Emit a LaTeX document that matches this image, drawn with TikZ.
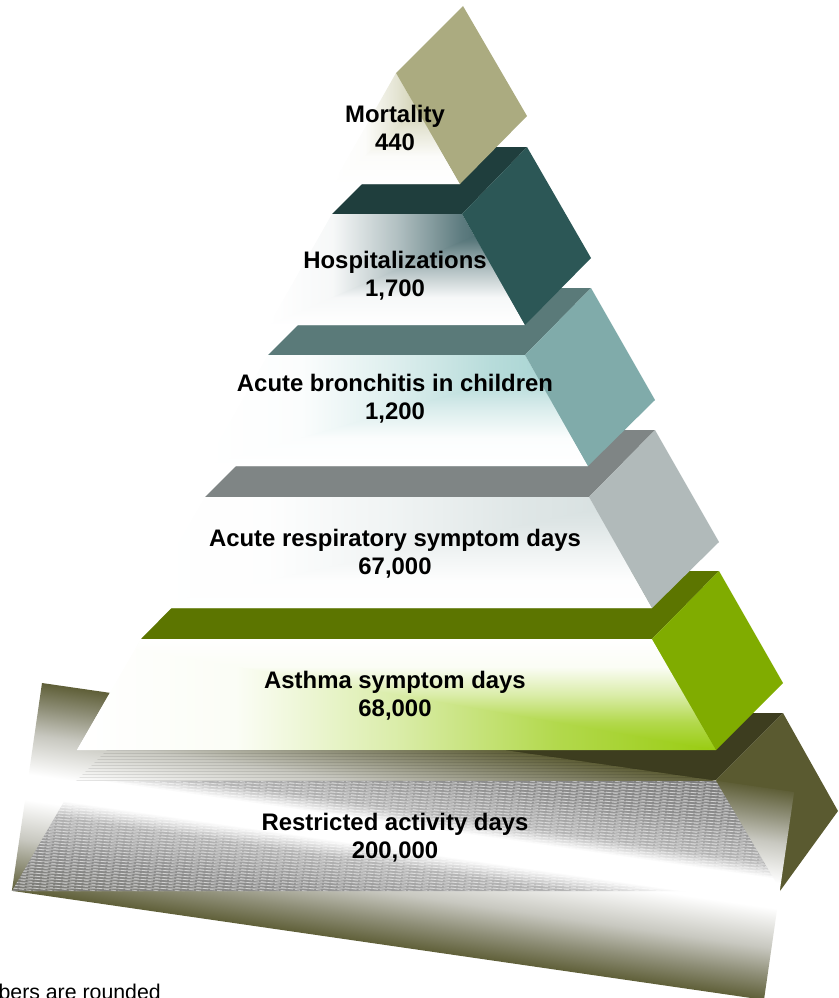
\documentclass[tikz,border=0pt]{standalone}
\usepackage{fontspec}
\setmainfont{Liberation Sans}
\definecolor{morS}{HTML}{ABAB80}
\definecolor{morC}{HTML}{B5B585}
\definecolor{hosT}{HTML}{1F3E3D}
\definecolor{hosS}{HTML}{2C5756}
\definecolor{hosC}{HTML}{285055}
\definecolor{broT}{HTML}{5A7A79}
\definecolor{broS}{HTML}{80ABAA}
\definecolor{broC}{HTML}{9FD0CE}
\definecolor{resT}{HTML}{7F8585}
\definecolor{resS}{HTML}{B1BABA}
\definecolor{resC}{HTML}{D4DEDE}
\definecolor{astT}{HTML}{5C7500}
\definecolor{astS}{HTML}{80AC00}
\definecolor{astC}{HTML}{99CC11}
\definecolor{actT}{HTML}{3D3D1F}
\definecolor{actS}{HTML}{5A5A30}
\definecolor{olv}{HTML}{5F5F38}
\definecolor{olvA}{HTML}{8F8F78}
\definecolor{olvB}{HTML}{C8C8C0}
\definecolor{drk}{HTML}{787872}
\definecolor{drkA}{HTML}{7A7A7A}
\definecolor{drkB}{HTML}{8E8E8E}
\definecolor{drkC}{HTML}{B4B4B4}
\newcommand{\declramps}[2]{%
 \pgfdeclarehorizontalshading{h#1}{100bp}{color(0bp)=(white); color(25bp)=(white); color(37.5bp)=(#2!4!white); color(50bp)=(#2!36!white); color(62.5bp)=(#2!75!white); color(75bp)=(#2); color(100bp)=(#2)}%
 \pgfdeclareverticalshading{t#1}{100bp}{color(0bp)=(white); color(25bp)=(white); color(37.5bp)=(#2!4!white); color(50bp)=(#2!36!white); color(62.5bp)=(#2!75!white); color(75bp)=(#2); color(100bp)=(#2)}%
 \pgfdeclareverticalshading{b#1}{100bp}{color(0bp)=(#2); color(25bp)=(#2); color(37.5bp)=(#2!75!white); color(50bp)=(#2!36!white); color(62.5bp)=(#2!4!white); color(75bp)=(white); color(100bp)=(white)}%
}
\declramps{mor}{morC}
\declramps{hos}{hosC}
\declramps{bro}{broC}
\declramps{res}{resC}
\declramps{ast}{astC}
% #1 polygon, #2 ramp, #3 v-prefix, #4 x0, #5 x1, #6 corner y, #7 opposite y
\newcommand{\frontface}[7]{%
 \begin{scope}
  \clip #1;
  \fill[white] (#4,#6) rectangle (#5,#7);
  \shade[shading=h#2] (#4,#6) rectangle (#5,#7);
  \begin{scope}
   \clip (#5,#6) -- (#5,#7) -- (#4,#7) -- cycle;
   \shade[shading=#3#2] (#4,#6) rectangle (#5,#7);
  \end{scope}
 \end{scope}}
\pgfdeclareverticalshading{rectbase}{100bp}{color(0bp)=(olv); color(25bp)=(olv); color(31bp)=(olvA); color(37.5bp)=(olvB); color(47bp)=(white); color(53bp)=(white); color(62.5bp)=(olvB); color(69bp)=(olvA); color(75bp)=(olv); color(100bp)=(olv)}
\pgfdeclareverticalshading{rectdark}{100bp}{color(0bp)=(drk); color(25bp)=(drk); color(35bp)=(drkB); color(44bp)=(drkC); color(48bp)=(white); color(54bp)=(white); color(57.5bp)=(drkC); color(66bp)=(drkB); color(75bp)=(drkA); color(100bp)=(drkA)}
\tikzset{
 rectcanvas/.style={transform canvas={rotate around={-8.25:(42,683)}}},
 label/.style={font=\bfseries\fontsize{23.9}{28}\selectfont,align=center,text=black,inner sep=0pt},
 note/.style={font=\fontsize{21.3}{26}\selectfont,text=black,inner sep=0pt}
}
\begin{document}
\begin{tikzpicture}[x=1pt,y=-1pt]
\useasboundingbox (0,0) rectangle (838,998);
% restricted layer
\fill[actT] (77,780) -- (144,713) -- (783,713) -- (716,780) -- cycle;
\fill[actS] (716,780) -- (783,713) -- (838,811) -- (780,891) -- cycle;
\begin{scope}[rectcanvas]
 \shade[shading=rectbase] (42,683) rectangle (802,893);
\end{scope}
% top strip of restricted layer
\begin{scope}
 \clip (76,781) -- (107,750) -- (508,750) -- (716,780) -- cycle;
 \foreach \yy in {750,753,...,781} \draw[black,opacity=.09,line width=.9] (60,\yy) -- (730,\yy);
\end{scope}
% front of restricted layer
\begin{scope}
 \clip (76,781) -- (716,781) -- (781,891) -- (12,891) -- cycle;
 \begin{scope}[rectcanvas]
  \shade[shading=rectdark] (42,683) rectangle (802,893);
  \foreach \yy in {683,686,...,893} \draw[white,opacity=.45,line width=.9,dash pattern=on 5pt off 2pt] (0,\yy) -- (840,\yy);
 \end{scope}
 \foreach \yy in {780,783,...,892} \draw[white,opacity=.3,line width=.9] (0,\yy) -- (800,\yy);
\end{scope}
% asthma
\fill[astT] (141,639) -- (208,571) -- (719,571) -- (652,639) -- cycle;
\frontface{(141,639) -- (652,639) -- (716,750) -- (77,750) -- cycle}{ast}{b}{77}{716}{750}{639}
\fill[astS] (652,639) -- (719,571) -- (783,683) -- (716,750) -- cycle;
% respiratory
\fill[resT] (205,497) -- (272,430) -- (655,430) -- (589,497) -- cycle;
\frontface{(205,497) -- (589,497) -- (652,608) -- (141,608) -- cycle}{res}{t}{141}{652}{497}{608}
\fill[resS] (589,497) -- (655,430) -- (719,542) -- (652,608) -- cycle;
% bronchitis
\fill[broT] (268,355) -- (335,288) -- (591,288) -- (525,355) -- cycle;
\frontface{(268,355) -- (525,355) -- (588,466) -- (205,466) -- cycle}{bro}{t}{205}{588}{355}{466}
\fill[broS] (525,355) -- (591,288) -- (655,400) -- (588,466) -- cycle;
% hospitalizations
\fill[hosT] (332,214) -- (399,147) -- (527,147) -- (462,214) -- cycle;
\frontface{(332,214) -- (462,214) -- (525,325) -- (269,325) -- cycle}{hos}{t}{269}{525}{214}{325}
\fill[hosS] (462,214) -- (527,147) -- (591,258) -- (525,325) -- cycle;
% mortality
\frontface{(396,73) -- (460,184) -- (333,184) -- cycle}{mor}{t}{333}{460}{73}{184}
\fill[morS] (396,73) -- (463,6) -- (527,116) -- (460,184) -- cycle;
% labels
\node[label] (mortality) at (395,128) {Mortality\\440};
\node[label] (hospital) at (395,275.5) {Hospitalizations\\1,700};
\node[label] (bronchitis) at (395,398.5) {Acute bronchitis in children\\1,200};
\node[label] (respiratory) at (395,554) {Acute respiratory symptom days\\67,000};
\node[label] (asthma) at (395,695.5) {Asthma symptom days\\68,000};
\node[label] (restricted) at (395,837.5) {Restricted activity days\\200,000};
\node[note,anchor=base east] (rounded) at (161,999) {Numbers are rounded};
\end{tikzpicture}
\end{document}
